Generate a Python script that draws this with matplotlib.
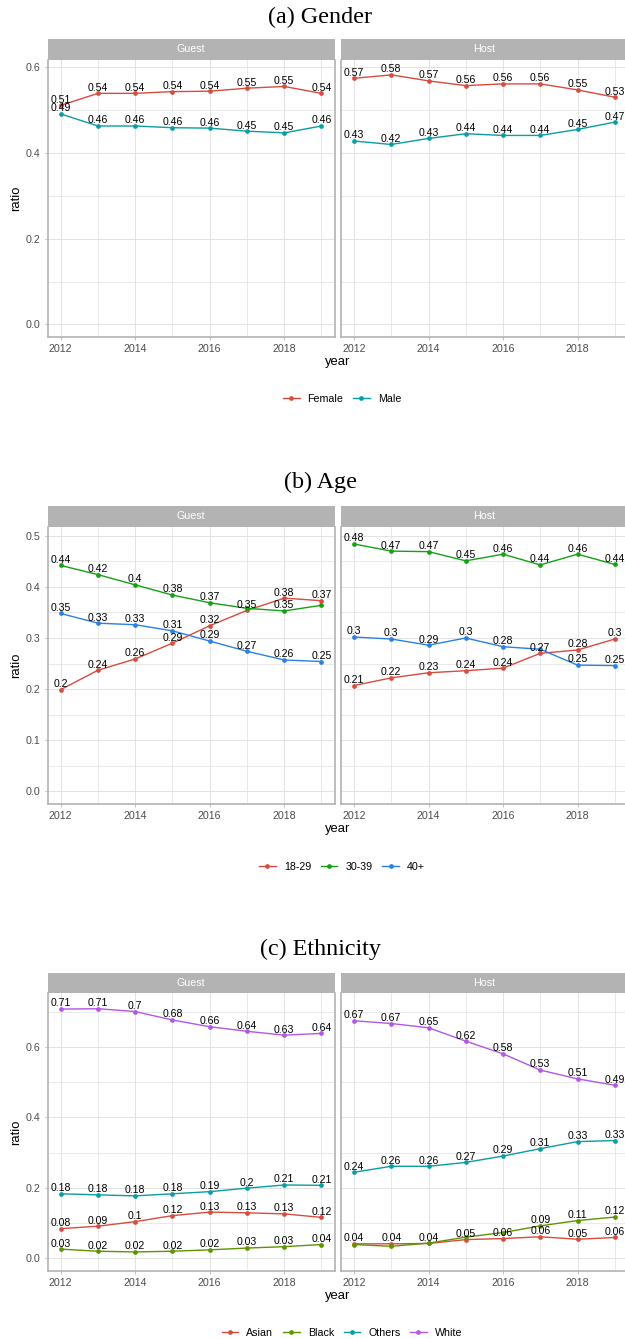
import matplotlib
matplotlib.use("Agg")
import matplotlib.pyplot as plt
from matplotlib.lines import Line2D
from matplotlib.ticker import MultipleLocator, FormatStrFormatter, FixedLocator

# ---------------- data ----------------
years = [2012, 2013, 2014, 2015, 2016, 2017, 2018, 2019]
facets = ["Guest", "Host"]

gender_groups = ["Female", "Male"]
gender_guest_female = [0.510, 0.538, 0.538, 0.542, 0.543, 0.550, 0.554, 0.538]
gender_guest_male = [0.490, 0.462, 0.462, 0.458, 0.457, 0.450, 0.446, 0.462]
gender_host_female = [0.573, 0.581, 0.567, 0.556, 0.560, 0.560, 0.546, 0.529]
gender_host_male = [0.427, 0.419, 0.433, 0.444, 0.440, 0.440, 0.454, 0.471]

age_groups = ["18-29", "30-39", "40+"]
age_guest_18_29 = [0.199, 0.237, 0.259, 0.290, 0.324, 0.354, 0.378, 0.373]
age_guest_30_39 = [0.442, 0.424, 0.404, 0.384, 0.369, 0.358, 0.353, 0.364]
age_guest_40p = [0.348, 0.329, 0.326, 0.314, 0.294, 0.274, 0.257, 0.254]
age_host_18_29 = [0.207, 0.222, 0.232, 0.236, 0.241, 0.270, 0.2765, 0.298]
age_host_30_39 = [0.484, 0.470, 0.469, 0.451, 0.464, 0.443, 0.464, 0.444]
age_host_40p = [0.302, 0.298, 0.286, 0.300, 0.283, 0.278, 0.247, 0.246]

eth_groups = ["Asian", "Black", "Others", "White"]
eth_guest_asian = [0.084, 0.091, 0.104, 0.121, 0.131, 0.129, 0.126, 0.116]
eth_guest_black = [0.026, 0.020, 0.018, 0.020, 0.024, 0.029, 0.033, 0.039]
eth_guest_others = [0.183, 0.180, 0.177, 0.183, 0.189, 0.199, 0.208, 0.207]
eth_guest_white = [0.707, 0.708, 0.700, 0.676, 0.657, 0.644, 0.633, 0.638]
eth_host_asian = [0.041, 0.041, 0.042, 0.053, 0.056, 0.061, 0.054, 0.059]
eth_host_black = [0.039, 0.034, 0.043, 0.060, 0.073, 0.092, 0.107, 0.117]
eth_host_others = [0.244, 0.261, 0.261, 0.272, 0.290, 0.311, 0.331, 0.334]
eth_host_white = [0.674, 0.666, 0.654, 0.616, 0.580, 0.534, 0.509, 0.491]

titles = ["(a) Gender", "(b) Age", "(c) Ethnicity"]

# ---------------- style ----------------
W, H = 625, 1339
DPI = 100
SANS = ["Liberation Sans", "DejaVu Sans"]
SERIF = ["Liberation Serif", "DejaVu Serif"]
plt.rcParams["font.family"] = SANS

RED = "#D84B3F"
TEAL = "#0A9DA2"
GREEN = "#16A016"
BLUE = "#2A80E4"
OLIVE = "#5E9400"
PURPLE = "#B257E6"

SMALL = 7.7      # pt
LABEL_FS = 7.6
AXT = 9.4
GRID = "#E3E3E3"
BORDER = "#B3B3B3"
TICKC = "#4D4D4D"

fig = plt.figure(figsize=(W / DPI, H / DPI), dpi=DPI)
renderer = fig.canvas.get_renderer()


def fx(px):
    return px / W


def fy(py):
    return 1 - py / H


sections = [
    dict(title=titles[0], groups=gender_groups, colors=[RED, TEAL],
         data={"Guest": [gender_guest_female, gender_guest_male],
               "Host": [gender_host_female, gender_host_male]},
         strip_top=39.0, ptop=60.0, pbot=337.3, ylim=(-0.0298, 0.6156),
         major=0.2, title_y=17.5, xlab_y=362.0, leg_y=399.0),
    dict(title=titles[1], groups=age_groups, colors=[RED, GREEN, BLUE],
         data={"Guest": [age_guest_18_29, age_guest_30_39, age_guest_40p],
               "Host": [age_host_18_29, age_host_30_39, age_host_40p]},
         strip_top=505.7, ptop=526.8, pbot=803.9, ylim=(-0.0246, 0.5176),
         major=0.1, title_y=482.5, xlab_y=829.0, leg_y=866.7),
    dict(title=titles[2], groups=eth_groups, colors=[RED, OLIVE, TEAL, PURPLE],
         data={"Guest": [eth_guest_asian, eth_guest_black, eth_guest_others, eth_guest_white],
               "Host": [eth_host_asian, eth_host_black, eth_host_others, eth_host_white]},
         strip_top=973.0, ptop=993.4, pbot=1270.9, ylim=(-0.0358, 0.7515),
         major=0.2, title_y=949.5, xlab_y=1296.0, leg_y=1333.0),
]

panel_x = {"Guest": (47.7, 334.5), "Host": (341.0, 627.8)}
XLIM = (2011.65, 2019.35)

fs_px = LABEL_FS * DPI / 72.0
digit_h = 0.716 * fs_px
label_off = 2.6  # px, baseline above point

for sec in sections:
    for fi, facet in enumerate(facets):
        x0, x1 = panel_x[facet]
        ax = fig.add_axes([fx(x0), fy(sec["pbot"]), fx(x1 - x0),
                           (sec["pbot"] - sec["ptop"]) / H])
        ax.set_xlim(*XLIM)
        ax.set_ylim(*sec["ylim"])
        ax.set_facecolor("white")
        ax.xaxis.set_major_locator(FixedLocator([2012, 2014, 2016, 2018]))
        ax.xaxis.set_minor_locator(FixedLocator([2013, 2015, 2017, 2019]))
        ax.yaxis.set_major_locator(MultipleLocator(sec["major"]))
        ax.yaxis.set_minor_locator(MultipleLocator(sec["major"] / 2))
        ax.yaxis.set_major_formatter(FormatStrFormatter("%.1f"))
        ax.grid(which="major", color=GRID, linewidth=0.75, zorder=0)
        ax.grid(which="minor", color=GRID, linewidth=0.55, zorder=0)
        ax.set_axisbelow(True)
        for s in ax.spines.values():
            s.set_color(BORDER)
            s.set_linewidth(1.2)
        ax.spines["top"].set_visible(False)
        ax.tick_params(which="major", length=2.4, width=0.6, color=BORDER,
                       labelsize=SMALL, labelcolor=TICKC, pad=2.6)
        ax.tick_params(which="minor", length=0)
        if facet == "Host":
            ax.tick_params(axis="y", which="major", left=False, labelleft=False)
        else:
            ax.tick_params(axis="y", pad=3.2)
        for lab in ax.get_xticklabels() + ax.get_yticklabels():
            lab.set_fontfamily(SANS)

        series = sec["data"][facet]
        for vals, col in zip(series, sec["colors"]):
            ax.plot(years, vals, color=col, linewidth=1.0, zorder=2,
                    solid_capstyle="butt")
        for vals, col in zip(series, sec["colors"]):
            ax.plot(years, vals, linestyle="none", marker="o", markersize=3.4,
                    markeredgewidth=0, color=col, zorder=3)

        # labels with overlap check (first drawn wins)
        placed = []
        for vals in series:
            for yr, v in zip(years, vals):
                txt = f"{round(v, 2):g}"
                t = ax.annotate(txt, (yr, v), xytext=(0, label_off * 72 / DPI),
                                textcoords="offset points", ha="center",
                                va="baseline", fontsize=LABEL_FS, color="black",
                                family=SANS, zorder=4, annotation_clip=False)
                wext = t.get_window_extent(renderer=renderer)
                px, py = ax.transData.transform((yr, v))
                bx0 = px - wext.width / 2
                bx1 = px + wext.width / 2
                by0 = py + label_off
                by1 = by0 + digit_h
                clash = False
                for (a0, a1, b0, b1) in placed:
                    if bx0 < a1 and bx1 > a0 and by0 < b1 and by1 > b0:
                        clash = True
                        break
                if clash:
                    t.remove()
                else:
                    placed.append((bx0, bx1, by0, by1))

        # strip
        sax = fig.add_axes([fx(x0), fy(sec["ptop"]), fx(x1 - x0),
                            (sec["ptop"] - sec["strip_top"]) / H])
        sax.set_facecolor(BORDER)
        sax.set_xticks([])
        sax.set_yticks([])
        for s in sax.spines.values():
            s.set_visible(False)
        sax.text(0.5, 0.5, facet, transform=sax.transAxes, ha="center",
                 va="center", color="white", fontsize=SMALL, family=SANS)

    # titles and axis titles
    fig.text(fx(320), fy(sec["title_y"]), sec["title"], ha="center", va="center",
             fontsize=17.4, family=SERIF, color="black")
    fig.text(fx(338), fy(sec["xlab_y"]), "year", ha="center", va="center",
             fontsize=AXT, family=SANS, color="black")
    fig.text(fx(16.5), fy((sec["ptop"] + sec["pbot"]) / 2), "ratio", ha="center",
             va="center", rotation=90, fontsize=AXT, family=SANS, color="black")

    handles = [Line2D([0], [0], color=c, linewidth=1.0, marker="o", markersize=3.4,
                      markeredgewidth=0) for c in sec["colors"]]
    fig.legend(handles, sec["groups"], loc="center",
               bbox_to_anchor=(fx(342), fy(sec["leg_y"])), ncol=len(handles),
               frameon=False, fontsize=SMALL, handlelength=1.56,
               handletextpad=0.75, columnspacing=0.9, borderpad=0,
               prop={"family": SANS, "size": SMALL})

fig.savefig("out.png", dpi=DPI, facecolor="white")
